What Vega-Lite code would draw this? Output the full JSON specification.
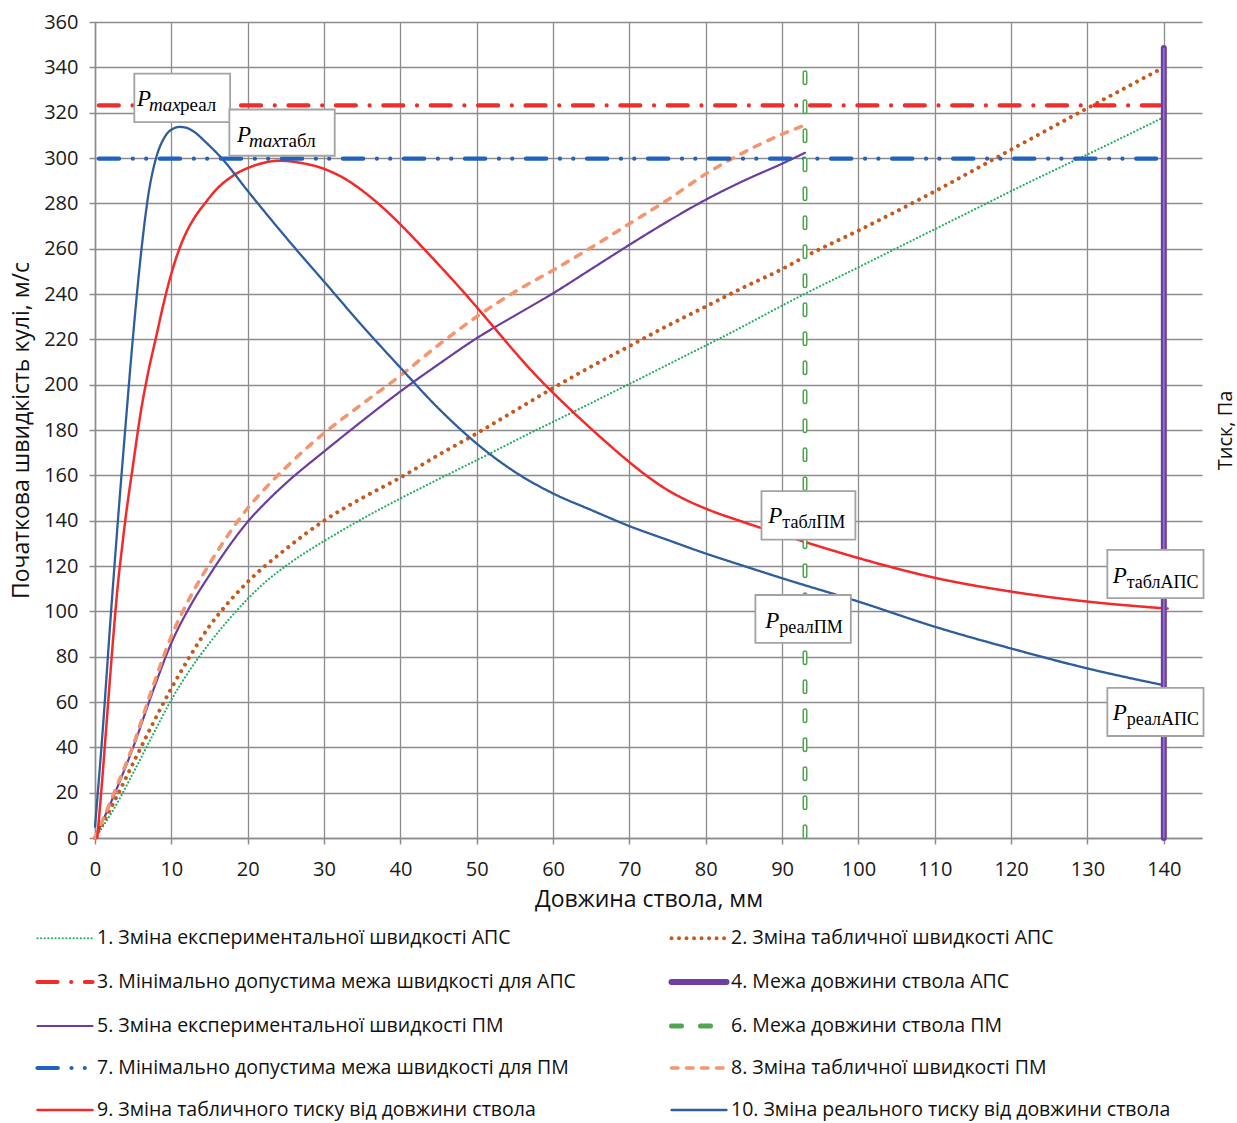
{
  "$schema": "https://vega.github.io/schema/vega-lite/v6.json",
  "width": 1107,
  "height": 816,
  "autosize": {"type": "none"},
  "padding": {"left": 95, "top": 22, "right": 35, "bottom": 285},
  "background": "white",
  "config": {
    "view": {"stroke": null},
    "font": "Open Sans",
    "axis": {
      "labelFont": "Open Sans", "titleFont": "Open Sans", "labelFontSize": 20, "labelColor": "#1a1a1a",
      "titleColor": "#111111", "titleFontWeight": "normal", "domainColor": "#8c8c8c", "domainWidth": 1.5,
      "tickColor": "#8c8c8c", "tickWidth": 1.5, "tickSize": 6, "gridColor": "#8c8c8c", "gridWidth": 1.3,
      "gridOpacity": 1, "labelFlush": false, "labelOverlap": false, "labelBound": false
    }
  },
  "data": {"values": [
    {"kind":"c","s":"1. Зміна експериментальної швидкості АПС","x":0,"y":0},
    {"kind":"c","s":"1. Зміна експериментальної швидкості АПС","x":2.5,"y":13},
    {"kind":"c","s":"1. Зміна експериментальної швидкості АПС","x":5,"y":28.7},
    {"kind":"c","s":"1. Зміна експериментальної швидкості АПС","x":7.5,"y":45},
    {"kind":"c","s":"1. Зміна експериментальної швидкості АПС","x":10,"y":61},
    {"kind":"c","s":"1. Зміна експериментальної швидкості АПС","x":12.5,"y":74.5},
    {"kind":"c","s":"1. Зміна експериментальної швидкості АПС","x":15,"y":86},
    {"kind":"c","s":"1. Зміна експериментальної швидкості АПС","x":17.5,"y":96.3},
    {"kind":"c","s":"1. Зміна експериментальної швидкості АПС","x":20,"y":105.5},
    {"kind":"c","s":"1. Зміна експериментальної швидкості АПС","x":22.5,"y":113.5},
    {"kind":"c","s":"1. Зміна експериментальної швидкості АПС","x":25,"y":120},
    {"kind":"c","s":"1. Зміна експериментальної швидкості АПС","x":27.5,"y":125.8},
    {"kind":"c","s":"1. Зміна експериментальної швидкості АПС","x":30,"y":131},
    {"kind":"c","s":"1. Зміна експериментальної швидкості АПС","x":35,"y":140.8},
    {"kind":"c","s":"1. Зміна експериментальної швидкості АПС","x":40,"y":149.8},
    {"kind":"c","s":"1. Зміна експериментальної швидкості АПС","x":46,"y":160},
    {"kind":"c","s":"1. Зміна експериментальної швидкості АПС","x":50,"y":166.7},
    {"kind":"c","s":"1. Зміна експериментальної швидкості АПС","x":57.8,"y":180},
    {"kind":"c","s":"1. Зміна експериментальної швидкості АПС","x":60,"y":183.6},
    {"kind":"c","s":"1. Зміна експериментальної швидкості АПС","x":69.8,"y":200},
    {"kind":"c","s":"1. Зміна експериментальної швидкості АПС","x":80,"y":217.3},
    {"kind":"c","s":"1. Зміна експериментальної швидкості АПС","x":81.6,"y":220},
    {"kind":"c","s":"1. Зміна експериментальної швидкості АПС","x":92.7,"y":239.6},
    {"kind":"c","s":"1. Зміна експериментальної швидкості АПС","x":100,"y":251.8},
    {"kind":"c","s":"1. Зміна експериментальної швидкості АПС","x":105,"y":260.2},
    {"kind":"c","s":"1. Зміна експериментальної швидкості АПС","x":110,"y":268.6},
    {"kind":"c","s":"1. Зміна експериментальної швидкості АПС","x":116.8,"y":280},
    {"kind":"c","s":"1. Зміна експериментальної швидкості АПС","x":120,"y":285.4},
    {"kind":"c","s":"1. Зміна експериментальної швидкості АПС","x":129,"y":300},
    {"kind":"c","s":"1. Зміна експериментальної швидкості АПС","x":130,"y":301.6},
    {"kind":"c","s":"1. Зміна експериментальної швидкості АПС","x":140,"y":318},

    {"kind":"c","s":"2. Зміна табличної швидкості АПС","x":0,"y":0},
    {"kind":"c","s":"2. Зміна табличної швидкості АПС","x":2.5,"y":16},
    {"kind":"c","s":"2. Зміна табличної швидкості АПС","x":5,"y":33},
    {"kind":"c","s":"2. Зміна табличної швидкості АПС","x":7.5,"y":50},
    {"kind":"c","s":"2. Зміна табличної швидкості АПС","x":10,"y":66},
    {"kind":"c","s":"2. Зміна табличної швидкості АПС","x":12.5,"y":80.5},
    {"kind":"c","s":"2. Зміна табличної швидкості АПС","x":15,"y":93.5},
    {"kind":"c","s":"2. Зміна табличної швидкості АПС","x":17.5,"y":104},
    {"kind":"c","s":"2. Зміна табличної швидкості АПС","x":20,"y":113},
    {"kind":"c","s":"2. Зміна табличної швидкості АПС","x":25,"y":127.5},
    {"kind":"c","s":"2. Зміна табличної швидкості АПС","x":30,"y":140},
    {"kind":"c","s":"2. Зміна табличної швидкості АПС","x":35,"y":150},
    {"kind":"c","s":"2. Зміна табличної швидкості АПС","x":40,"y":159},
    {"kind":"c","s":"2. Зміна табличної швидкості АПС","x":45,"y":169},
    {"kind":"c","s":"2. Зміна табличної швидкості АПС","x":50,"y":178.5},
    {"kind":"c","s":"2. Зміна табличної швидкості АПС","x":55,"y":188.5},
    {"kind":"c","s":"2. Зміна табличної швидкості АПС","x":60,"y":198.5},
    {"kind":"c","s":"2. Зміна табличної швидкості АПС","x":65,"y":208},
    {"kind":"c","s":"2. Зміна табличної швидкості АПС","x":70,"y":217},
    {"kind":"c","s":"2. Зміна табличної швидкості АПС","x":75,"y":226},
    {"kind":"c","s":"2. Зміна табличної швидкості АПС","x":80,"y":234.5},
    {"kind":"c","s":"2. Зміна табличної швидкості АПС","x":85,"y":243},
    {"kind":"c","s":"2. Зміна табличної швидкості АПС","x":90,"y":251},
    {"kind":"c","s":"2. Зміна табличної швидкості АПС","x":93,"y":256.5},
    {"kind":"c","s":"2. Зміна табличної швидкості АПС","x":100,"y":268},
    {"kind":"c","s":"2. Зміна табличної швидкості АПС","x":110,"y":285.3},
    {"kind":"c","s":"2. Зміна табличної швидкості АПС","x":120,"y":303.7},
    {"kind":"c","s":"2. Зміна табличної швидкості АПС","x":130,"y":322},
    {"kind":"c","s":"2. Зміна табличної швидкості АПС","x":140,"y":340},

    {"kind":"c","s":"5. Зміна експериментальної швидкості ПМ","x":0,"y":0},
    {"kind":"c","s":"5. Зміна експериментальної швидкості ПМ","x":2.5,"y":19},
    {"kind":"c","s":"5. Зміна експериментальної швидкості ПМ","x":5,"y":40},
    {"kind":"c","s":"5. Зміна експериментальної швидкості ПМ","x":7.5,"y":64},
    {"kind":"c","s":"5. Зміна експериментальної швидкості ПМ","x":10,"y":86},
    {"kind":"c","s":"5. Зміна експериментальної швидкості ПМ","x":12.5,"y":102.5},
    {"kind":"c","s":"5. Зміна експериментальної швидкості ПМ","x":15,"y":116},
    {"kind":"c","s":"5. Зміна експериментальної швидкості ПМ","x":17.5,"y":128.5},
    {"kind":"c","s":"5. Зміна експериментальної швидкості ПМ","x":20,"y":139.5},
    {"kind":"c","s":"5. Зміна експериментальної швидкості ПМ","x":22.5,"y":148.5},
    {"kind":"c","s":"5. Зміна експериментальної швидкості ПМ","x":25,"y":156.5},
    {"kind":"c","s":"5. Зміна експериментальної швидкості ПМ","x":30,"y":170.5},
    {"kind":"c","s":"5. Зміна експериментальної швидкості ПМ","x":35,"y":184},
    {"kind":"c","s":"5. Зміна експериментальної швидкості ПМ","x":40,"y":197},
    {"kind":"c","s":"5. Зміна експериментальної швидкості ПМ","x":45,"y":209},
    {"kind":"c","s":"5. Зміна експериментальної швидкості ПМ","x":50,"y":220.5},
    {"kind":"c","s":"5. Зміна експериментальної швидкості ПМ","x":55,"y":230.5},
    {"kind":"c","s":"5. Зміна експериментальної швидкості ПМ","x":60,"y":240.3},
    {"kind":"c","s":"5. Зміна експериментальної швидкості ПМ","x":65,"y":251},
    {"kind":"c","s":"5. Зміна експериментальної швидкості ПМ","x":70,"y":261.7},
    {"kind":"c","s":"5. Зміна експериментальної швидкості ПМ","x":75,"y":272},
    {"kind":"c","s":"5. Зміна експериментальної швидкості ПМ","x":80,"y":281.6},
    {"kind":"c","s":"5. Зміна експериментальної швидкості ПМ","x":85,"y":290},
    {"kind":"c","s":"5. Зміна експериментальної швидкості ПМ","x":90,"y":297.5},
    {"kind":"c","s":"5. Зміна експериментальної швидкості ПМ","x":93,"y":302.3},

    {"kind":"c","s":"8. Зміна табличної швидкості ПМ","x":0,"y":0},
    {"kind":"c","s":"8. Зміна табличної швидкості ПМ","x":2.5,"y":20},
    {"kind":"c","s":"8. Зміна табличної швидкості ПМ","x":5,"y":41},
    {"kind":"c","s":"8. Зміна табличної швидкості ПМ","x":7.5,"y":66},
    {"kind":"c","s":"8. Зміна табличної швидкості ПМ","x":10,"y":89},
    {"kind":"c","s":"8. Зміна табличної швидкості ПМ","x":12.5,"y":106.5},
    {"kind":"c","s":"8. Зміна табличної швидкості ПМ","x":15,"y":121},
    {"kind":"c","s":"8. Зміна табличної швидкості ПМ","x":17.5,"y":134},
    {"kind":"c","s":"8. Зміна табличної швидкості ПМ","x":20,"y":145.5},
    {"kind":"c","s":"8. Зміна табличної швидкості ПМ","x":22.5,"y":155},
    {"kind":"c","s":"8. Зміна табличної швидкості ПМ","x":25,"y":163.5},
    {"kind":"c","s":"8. Зміна табличної швидкості ПМ","x":30,"y":178.6},
    {"kind":"c","s":"8. Зміна табличної швидкості ПМ","x":35,"y":191.5},
    {"kind":"c","s":"8. Зміна табличної швидкості ПМ","x":40,"y":204},
    {"kind":"c","s":"8. Зміна табличної швидкості ПМ","x":45,"y":217.5},
    {"kind":"c","s":"8. Зміна табличної швидкості ПМ","x":50,"y":230},
    {"kind":"c","s":"8. Зміна табличної швидкості ПМ","x":55,"y":241},
    {"kind":"c","s":"8. Зміна табличної швидкості ПМ","x":60,"y":250.5},
    {"kind":"c","s":"8. Зміна табличної швидкості ПМ","x":65,"y":260.5},
    {"kind":"c","s":"8. Зміна табличної швидкості ПМ","x":70,"y":271},
    {"kind":"c","s":"8. Зміна табличної швидкості ПМ","x":75,"y":281.5},
    {"kind":"c","s":"8. Зміна табличної швидкості ПМ","x":80,"y":293},
    {"kind":"c","s":"8. Зміна табличної швидкості ПМ","x":85,"y":302.5},
    {"kind":"c","s":"8. Зміна табличної швидкості ПМ","x":90,"y":310.5},
    {"kind":"c","s":"8. Зміна табличної швидкості ПМ","x":93,"y":314.5},

    {"kind":"c","s":"9. Зміна табличного тиску від довжини ствола","x":0.3,"y":0},
    {"kind":"c","s":"9. Зміна табличного тиску від довжини ствола","x":1,"y":28},
    {"kind":"c","s":"9. Зміна табличного тиску від довжини ствола","x":1.5,"y":50},
    {"kind":"c","s":"9. Зміна табличного тиску від довжини ствола","x":2,"y":72},
    {"kind":"c","s":"9. Зміна табличного тиску від довжини ствола","x":2.5,"y":93},
    {"kind":"c","s":"9. Зміна табличного тиску від довжини ствола","x":3,"y":112},
    {"kind":"c","s":"9. Зміна табличного тиску від довжини ствола","x":3.5,"y":127},
    {"kind":"c","s":"9. Зміна табличного тиску від довжини ствола","x":4,"y":141},
    {"kind":"c","s":"9. Зміна табличного тиску від довжини ствола","x":5,"y":165},
    {"kind":"c","s":"9. Зміна табличного тиску від довжини ствола","x":6,"y":188},
    {"kind":"c","s":"9. Зміна табличного тиску від довжини ствола","x":7,"y":206},
    {"kind":"c","s":"9. Зміна табличного тиску від довжини ствола","x":8,"y":221},
    {"kind":"c","s":"9. Зміна табличного тиску від довжини ствола","x":9,"y":236},
    {"kind":"c","s":"9. Зміна табличного тиску від довжини ствола","x":10,"y":249},
    {"kind":"c","s":"9. Зміна табличного тиску від довжини ствола","x":11,"y":259.5},
    {"kind":"c","s":"9. Зміна табличного тиску від довжини ствола","x":12,"y":267.5},
    {"kind":"c","s":"9. Зміна табличного тиску від довжини ствола","x":13,"y":273.5},
    {"kind":"c","s":"9. Зміна табличного тиску від довжини ствола","x":14.4,"y":280},
    {"kind":"c","s":"9. Зміна табличного тиску від довжини ствола","x":16,"y":286.5},
    {"kind":"c","s":"9. Зміна табличного тиску від довжини ствола","x":18,"y":292},
    {"kind":"c","s":"9. Зміна табличного тиску від довжини ствола","x":21,"y":296.8},
    {"kind":"c","s":"9. Зміна табличного тиску від довжини ствола","x":24.2,"y":298.8},
    {"kind":"c","s":"9. Зміна табличного тиску від довжини ствола","x":27,"y":297.8},
    {"kind":"c","s":"9. Зміна табличного тиску від довжини ствола","x":30,"y":295.2},
    {"kind":"c","s":"9. Зміна табличного тиску від довжини ствола","x":33,"y":290.3},
    {"kind":"c","s":"9. Зміна табличного тиску від довжини ствола","x":36,"y":283},
    {"kind":"c","s":"9. Зміна табличного тиску від довжини ствола","x":38.6,"y":275.3},
    {"kind":"c","s":"9. Зміна табличного тиску від довжини ствола","x":40,"y":270.7},
    {"kind":"c","s":"9. Зміна табличного тиску від довжини ствола","x":42.5,"y":262},
    {"kind":"c","s":"9. Зміна табличного тиску від довжини ствола","x":45,"y":253},
    {"kind":"c","s":"9. Зміна табличного тиску від довжини ствола","x":47.5,"y":243.8},
    {"kind":"c","s":"9. Зміна табличного тиску від довжини ствола","x":50,"y":234.2},
    {"kind":"c","s":"9. Зміна табличного тиску від довжини ствола","x":52.5,"y":224.3},
    {"kind":"c","s":"9. Зміна табличного тиску від довжини ствола","x":55,"y":214.4},
    {"kind":"c","s":"9. Зміна табличного тиску від довжини ствола","x":57.5,"y":205},
    {"kind":"c","s":"9. Зміна табличного тиску від довжини ствола","x":60,"y":196.4},
    {"kind":"c","s":"9. Зміна табличного тиску від довжини ствола","x":62.5,"y":188.3},
    {"kind":"c","s":"9. Зміна табличного тиску від довжини ствола","x":65,"y":180.5},
    {"kind":"c","s":"9. Зміна табличного тиску від довжини ствола","x":67.5,"y":173},
    {"kind":"c","s":"9. Зміна табличного тиску від довжини ствола","x":70,"y":165.8},
    {"kind":"c","s":"9. Зміна табличного тиску від довжини ствола","x":72.5,"y":159.2},
    {"kind":"c","s":"9. Зміна табличного тиску від довжини ствола","x":75,"y":153.5},
    {"kind":"c","s":"9. Зміна табличного тиску від довжини ствола","x":77.5,"y":149},
    {"kind":"c","s":"9. Зміна табличного тиску від довжини ствола","x":80,"y":145.3},
    {"kind":"c","s":"9. Зміна табличного тиску від довжини ствола","x":85,"y":139.3},
    {"kind":"c","s":"9. Зміна табличного тиску від довжини ствола","x":90,"y":133.8},
    {"kind":"c","s":"9. Зміна табличного тиску від довжини ствола","x":95,"y":128.5},
    {"kind":"c","s":"9. Зміна табличного тиску від довжини ствола","x":100,"y":123.5},
    {"kind":"c","s":"9. Зміна табличного тиску від довжини ствола","x":110,"y":114.8},
    {"kind":"c","s":"9. Зміна табличного тиску від довжини ствола","x":120,"y":108.7},
    {"kind":"c","s":"9. Зміна табличного тиску від довжини ствола","x":130,"y":104.3},
    {"kind":"c","s":"9. Зміна табличного тиску від довжини ствола","x":140.5,"y":101.2},

    {"kind":"c","s":"10. Зміна реального тиску від довжини ствола","x":0,"y":5},
    {"kind":"c","s":"10. Зміна реального тиску від довжини ствола","x":1,"y":47},
    {"kind":"c","s":"10. Зміна реального тиску від довжини ствола","x":2,"y":95},
    {"kind":"c","s":"10. Зміна реального тиску від довжини ствола","x":3,"y":140},
    {"kind":"c","s":"10. Зміна реального тиску від довжини ствола","x":4,"y":182},
    {"kind":"c","s":"10. Зміна реального тиску від довжини ствола","x":5,"y":222},
    {"kind":"c","s":"10. Зміна реального тиску від довжини ствола","x":6,"y":257},
    {"kind":"c","s":"10. Зміна реального тиску від довжини ствола","x":7,"y":284},
    {"kind":"c","s":"10. Зміна реального тиску від довжини ствола","x":8,"y":300},
    {"kind":"c","s":"10. Зміна реального тиску від довжини ствола","x":9,"y":308.5},
    {"kind":"c","s":"10. Зміна реального тиску від довжини ствола","x":10,"y":312.5},
    {"kind":"c","s":"10. Зміна реального тиску від довжини ствола","x":11.1,"y":313.7},
    {"kind":"c","s":"10. Зміна реального тиску від довжини ствола","x":12,"y":313.3},
    {"kind":"c","s":"10. Зміна реального тиску від довжини ствола","x":13,"y":311.5},
    {"kind":"c","s":"10. Зміна реального тиску від довжини ствола","x":14.5,"y":307},
    {"kind":"c","s":"10. Зміна реального тиску від довжини ствола","x":16.7,"y":299.5},
    {"kind":"c","s":"10. Зміна реального тиску від довжини ствола","x":20,"y":285.5},
    {"kind":"c","s":"10. Зміна реального тиску від довжини ствола","x":25,"y":265},
    {"kind":"c","s":"10. Зміна реального тиску від довжини ствола","x":30,"y":245.5},
    {"kind":"c","s":"10. Зміна реального тиску від довжини ствола","x":35,"y":226},
    {"kind":"c","s":"10. Зміна реального тиску від довжини ствола","x":40,"y":207.5},
    {"kind":"c","s":"10. Зміна реального тиску від довжини ствола","x":45,"y":189.5},
    {"kind":"c","s":"10. Зміна реального тиску від довжини ствола","x":50,"y":174},
    {"kind":"c","s":"10. Зміна реального тиску від довжини ствола","x":55,"y":161.5},
    {"kind":"c","s":"10. Зміна реального тиску від довжини ствола","x":60,"y":152},
    {"kind":"c","s":"10. Зміна реального тиску від довжини ствола","x":65,"y":144.7},
    {"kind":"c","s":"10. Зміна реального тиску від довжини ствола","x":70,"y":137.6},
    {"kind":"c","s":"10. Зміна реального тиску від довжини ствола","x":75,"y":131.5},
    {"kind":"c","s":"10. Зміна реального тиску від довжини ствола","x":80,"y":125.5},
    {"kind":"c","s":"10. Зміна реального тиску від довжини ствола","x":85,"y":120},
    {"kind":"c","s":"10. Зміна реального тиску від довжини ствола","x":90,"y":114.6},
    {"kind":"c","s":"10. Зміна реального тиску від довжини ствола","x":100,"y":104.3},
    {"kind":"c","s":"10. Зміна реального тиску від довжини ствола","x":110,"y":93.2},
    {"kind":"c","s":"10. Зміна реального тиску від довжини ствола","x":120,"y":83.6},
    {"kind":"c","s":"10. Зміна реального тиску від довжини ствола","x":130,"y":74.8},
    {"kind":"c","s":"10. Зміна реального тиску від довжини ствола","x":140,"y":67.4},

    {"kind":"h","s":"3. Мінімально допустима межа швидкості для АПС","x":0.5,"x2":139.5,"y":323.2},
    {"kind":"h","s":"7. Мінімально допустима межа швидкості для ПМ","x":0.5,"x2":139,"y":299.7},
    {"kind":"v","s":"4. Межа довжини ствола АПС","x":140,"y":0,"y2":348.5},
    {"kind":"v","s":"6. Межа довжини ствола ПМ","x":93,"y":0.5,"y2":344},

    {"kind":"b","x":5.15,"x2":17.7,"y":315.8,"y2":337.2,"tx":5.5,"ty":323,"m":1,"sub":"реал"},
    {"kind":"b","x":17.6,"x2":31.4,"y":301,"y2":321.4,"tx":18.6,"ty":307,"m":1,"sub":"табл"},
    {"kind":"b","x":87.3,"x2":99.6,"y":131.6,"y2":153,"tx":88.2,"ty":139,"m":0,"sub":"таблПМ"},
    {"kind":"b","x":86.5,"x2":99,"y":86.1,"y2":107.2,"tx":87.8,"ty":92.5,"m":0,"sub":"реалПМ"},
    {"kind":"b","x":132.6,"x2":145.2,"y":105.8,"y2":127.1,"tx":133.3,"ty":112.4,"m":0,"sub":"таблАПС"},
    {"kind":"b","x":132.6,"x2":145.2,"y":45,"y2":66.2,"tx":133.3,"ty":51.9,"m":0,"sub":"реалАПС"}
  ]},
  "layer": [
    {
      "encoding": {
        "x": {"field": "x", "type": "quantitative", "title": "Довжина ствола, мм",
          "scale": {"domain": [0, 145], "nice": false, "zero": false},
          "axis": {
            "title": "Довжина ствола, мм", "titleFontSize": 23, "titlePadding": 9, "labelPadding": 15,
            "values": [0,5,10,15,20,25,30,35,40,45,50,55,60,65,70,75,80,85,90,95,100,105,110,115,120,125,130,135,140,145],
            "labelExpr": "datum.value % 10 === 0 ? datum.label : ''",
            "grid": true,
            "gridColor": {"condition": {"test": "datum.value % 10 === 0", "value": "#8c8c8c"}, "value": "#c8c8c8"},
            "tickOpacity": {"condition": {"test": "datum.value % 10 === 0", "value": 1}, "value": 0}
          }
        },
        "y": {"field": "y", "type": "quantitative", "title": "Початкова швидкість кулі, м/с",
          "scale": {"domain": [0, 360], "nice": false, "zero": false},
          "axis": {
            "title": "Початкова швидкість кулі, м/с", "titleFontSize": 23, "titlePadding": 10, "labelPadding": 11,
            "values": [0,20,40,60,80,100,120,140,160,180,200,220,240,260,280,300,320,340,360],
            "grid": true
          }
        }
      },
      "layer": [
        {
          "transform": [{"filter": "datum.kind === 'c' && (parseInt(datum.s) === 1 || parseInt(datum.s) === 5)"}],
          "mark": {"type": "line", "interpolate": "monotone", "strokeCap": "round", "strokeJoin": "round", "strokeWidth": 2.2},
          "encoding": {
            "color": {"field": "s", "type": "nominal",
              "scale": {
                "domain": ["1. Зміна експериментальної швидкості АПС","2. Зміна табличної швидкості АПС","3. Мінімально допустима межа швидкості для АПС","4. Межа довжини ствола АПС","5. Зміна експериментальної швидкості ПМ","6. Межа довжини ствола ПМ","7. Мінімально допустима межа швидкості для ПМ","8. Зміна табличної швидкості ПМ","9. Зміна табличного тиску від довжини ствола","10. Зміна реального тиску від довжини ствола"],
                "range": ["#22AE60","#C65A1E","#F22B2B","#6E3FA3","#6A3D9F","#4FA64F","#2262BE","#F4956E","#F42A2A","#2F5E9C"]
              },
              "legend": {
                "title": null, "orient": "none", "legendX": -30, "legendY": 916, "columns": 2, "direction": "horizontal",
                "symbolType": "stroke", "symbolSize": 3025, "labelFont": "Open Sans", "labelFontSize": 19.5,
                "labelColor": "#111111", "labelLimit": 0, "rowPadding": 22, "columnPadding": 83, "labelOffset": 7,
                "encode": {
                  "symbols": {"update": {
                    "strokeCap": {"value": "round"},
                    "strokeWidth": {"signal": "[0,2.2,4,4.2,6,2.2,5,4.2,3.5,2.5,2.3][parseInt(datum.value)]"}
                  }},
                  "labels": {"update": {"dx": {"value": 32}}}
                }
              }
            },
            "strokeDash": {"field": "s", "type": "nominal",
              "scale": {
                "domain": ["1. Зміна експериментальної швидкості АПС","2. Зміна табличної швидкості АПС","3. Мінімально допустима межа швидкості для АПС","4. Межа довжини ствола АПС","5. Зміна експериментальної швидкості ПМ","6. Межа довжини ствола ПМ","7. Мінімально допустима межа швидкості для ПМ","8. Зміна табличної швидкості ПМ","9. Зміна табличного тиску від довжини ствола","10. Зміна реального тиску від довжини ствола"],
                "range": [[0.01,3.6],[0.01,7.5],[20,13.7,0.01,13.7],[1,0],[1,0],[10,19],[20.3,13.7,0.01,13.3,0.01,13.7],[6.5,8.5],[1,0],[1,0]]
              }
            }
          }
        },
        {
          "transform": [{"filter": "datum.kind === 'c' && parseInt(datum.s) === 2"}],
          "mark": {"type": "line", "interpolate": "monotone", "strokeCap": "round", "strokeJoin": "round", "strokeWidth": 4},
          "encoding": {"color": {"field": "s", "type": "nominal"}, "strokeDash": {"field": "s", "type": "nominal"}}
        },
        {
          "transform": [{"filter": "datum.kind === 'c' && parseInt(datum.s) === 8"}],
          "mark": {"type": "line", "interpolate": "monotone", "strokeCap": "round", "strokeJoin": "round", "strokeWidth": 3.5},
          "encoding": {"color": {"field": "s", "type": "nominal"}, "strokeDash": {"field": "s", "type": "nominal"}}
        },
        {
          "transform": [{"filter": "datum.kind === 'c' && parseInt(datum.s) === 9"}],
          "mark": {"type": "line", "interpolate": "monotone", "strokeCap": "round", "strokeJoin": "round", "strokeWidth": 2.5},
          "encoding": {"color": {"field": "s", "type": "nominal"}, "strokeDash": {"field": "s", "type": "nominal"}}
        },
        {
          "transform": [{"filter": "datum.kind === 'c' && parseInt(datum.s) === 10"}],
          "mark": {"type": "line", "interpolate": "monotone", "strokeCap": "round", "strokeJoin": "round", "strokeWidth": 2.3},
          "encoding": {"color": {"field": "s", "type": "nominal"}, "strokeDash": {"field": "s", "type": "nominal"}}
        },
        {
          "transform": [{"filter": "datum.kind === 'h'"}],
          "mark": {"type": "rule", "strokeCap": "round", "strokeWidth": 4.2},
          "encoding": {
            "x2": {"field": "x2"},
            "color": {"field": "s", "type": "nominal"},
            "strokeDash": {"field": "s", "type": "nominal"}
          }
        },
        {
          "transform": [{"filter": "datum.kind === 'v' && datum.x < 100"}],
          "mark": {"type": "rule", "strokeCap": "round", "strokeWidth": 5},
          "encoding": {
            "y2": {"field": "y2"},
            "color": {"field": "s", "type": "nominal"},
            "strokeDash": {"field": "s", "type": "nominal"}
          }
        },
        {
          "transform": [{"filter": "datum.kind === 'v' && datum.x > 100"}],
          "mark": {"type": "rule", "strokeCap": "round", "strokeWidth": 6},
          "encoding": {
            "y2": {"field": "y2"},
            "color": {"field": "s", "type": "nominal"},
            "strokeDash": {"field": "s", "type": "nominal"}
          }
        },
        {
          "transform": [{"filter": "datum.kind === 'v' && datum.x < 100"}],
          "mark": {"type": "rule", "color": "#ffffff", "strokeWidth": 2, "strokeDash": [10, 19], "strokeCap": "round"},
          "encoding": {"y2": {"field": "y2"}}
        },
        {
          "transform": [{"filter": "datum.kind === 'v' && datum.x > 100"}],
          "mark": {"type": "rule", "color": "#9479c6", "strokeWidth": 1.6},
          "encoding": {"y2": {"field": "y2"}}
        }
      ]
    },
    {
      "encoding": {
        "x": {"field": "x", "type": "quantitative", "title": "Довжина ствола, мм",
          "scale": {"domain": [0, 145], "nice": false, "zero": false}},
        "y": {"field": "y", "type": "quantitative", "title": "Тиск, Па",
          "scale": {"domain": [0, 360], "nice": false, "zero": false},
          "axis": {"orient": "right", "title": "Тиск, Па", "labels": false, "ticks": false, "domain": false,
            "grid": false, "minExtent": 0, "titlePadding": 13, "titleAngle": 270, "titleBaseline": "top",
            "titleFontSize": 20}
        }
      },
      "layer": [
        {
          "transform": [{"filter": "datum.kind === 'b'"}],
          "mark": {"type": "rect", "fill": "#ffffff", "stroke": "#a3a3a3", "strokeWidth": 1.8},
          "encoding": {"x2": {"field": "x2"}, "y2": {"field": "y2"}}
        },
        {
          "transform": [{"filter": "datum.kind === 'b'"}],
          "mark": {"type": "text", "text": "P", "font": "Liberation Serif", "fontStyle": "italic", "fontSize": 23,
            "align": "left", "baseline": "alphabetic", "color": "#000000"},
          "encoding": {
            "x": {"field": "tx", "type": "quantitative", "title": "Довжина ствола, мм"},
            "y": {"field": "ty", "type": "quantitative", "title": "Тиск, Па"}
          }
        },
        {
          "transform": [{"filter": "datum.kind === 'b' && datum.m === 1"}],
          "mark": {"type": "text", "text": "max", "font": "Liberation Serif", "fontStyle": "italic", "fontSize": 19,
            "align": "left", "baseline": "alphabetic", "dx": 12, "dy": 5, "color": "#000000"},
          "encoding": {
            "x": {"field": "tx", "type": "quantitative", "title": "Довжина ствола, мм"},
            "y": {"field": "ty", "type": "quantitative", "title": "Тиск, Па"}
          }
        },
        {
          "transform": [{"filter": "datum.kind === 'b' && datum.m === 1"}],
          "mark": {"type": "text", "font": "Liberation Serif", "fontSize": 19,
            "align": "left", "baseline": "alphabetic", "dx": 43, "dy": 5, "color": "#000000"},
          "encoding": {
            "x": {"field": "tx", "type": "quantitative", "title": "Довжина ствола, мм"},
            "y": {"field": "ty", "type": "quantitative", "title": "Тиск, Па"},
            "text": {"field": "sub"}
          }
        },
        {
          "transform": [{"filter": "datum.kind === 'b' && datum.m === 0"}],
          "mark": {"type": "text", "font": "Liberation Serif", "fontSize": 18,
            "align": "left", "baseline": "alphabetic", "dx": 14, "dy": 5, "color": "#000000"},
          "encoding": {
            "x": {"field": "tx", "type": "quantitative", "title": "Довжина ствола, мм"},
            "y": {"field": "ty", "type": "quantitative", "title": "Тиск, Па"},
            "text": {"field": "sub"}
          }
        }
      ]
    }
  ],
  "resolve": {"scale": {"y": "independent"}}
}
